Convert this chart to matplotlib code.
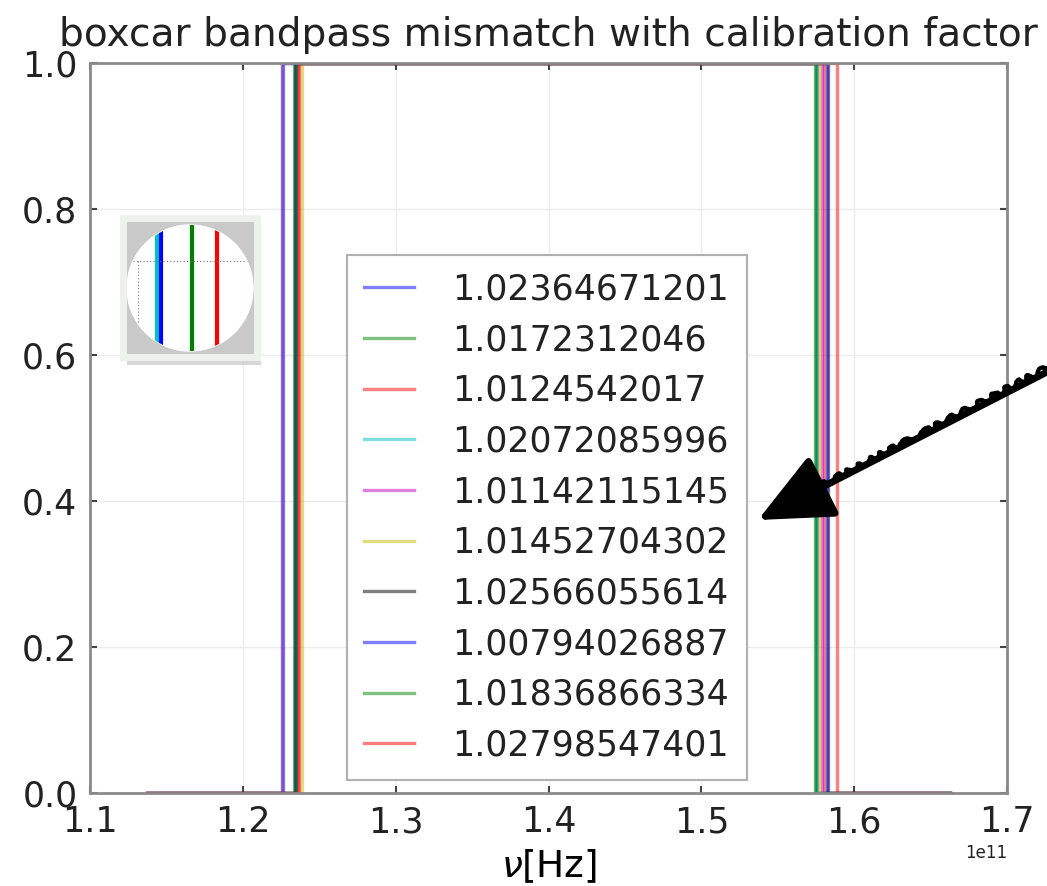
import matplotlib
matplotlib.use("Agg")
import matplotlib.pyplot as plt
from matplotlib.patches import Circle, FancyArrowPatch
from matplotlib.lines import Line2D
import numpy as np

# calibration factors (legend labels) and the band edges, in units of 1e11 Hz
factors = ['1.02364671201', '1.0172312046', '1.0124542017', '1.02072085996', '1.01142115145',
           '1.01452704302', '1.02566055614', '1.00794026887', '1.01836866334', '1.02798547401']
colors = ['b', 'g', 'r', 'c', 'm', 'y', 'k', 'b', 'g', 'r']
nu_start = 1.1373
nu_stop = 1.6628
band_lo = [1.2262, 1.2335, 1.2360, 1.2255, 1.2258, 1.2385, 1.2340, 1.2345, 1.2350, 1.2370]
band_hi = [1.5760, 1.5752, 1.5800, 1.5748, 1.5790, 1.5770, 1.5830, 1.5825, 1.5745, 1.5885]

W, H = 1047, 886
fig = plt.figure(figsize=(W / 100, H / 100), dpi=100)
ax = fig.add_axes([90 / W, 1 - 793 / H, 917 / W, 730 / H])

for lab, c, lo, hi in zip(factors, colors, band_lo, band_hi):
    x = np.array([nu_start, lo, lo, hi, hi, nu_stop]) * 1e11
    y = [0, 0, 1, 1, 0, 0]
    ax.plot(x, y, color=c, alpha=0.5, lw=2.4, label=lab)

ax.set_xlim(1.1e11, 1.7e11)
ax.set_ylim(0, 1.0)
ax.set_xticks(np.arange(1.1, 1.71, 0.1) * 1e11)
ax.set_yticks([0.0, 0.2, 0.4, 0.6, 0.8, 1.0])
ax.grid(True, color='#ececec', lw=1)
for s in ax.spines.values():
    s.set_color('#8a8a8a')
    s.set_linewidth(2)
    s.set_zorder(3)
ax.tick_params(direction='in', length=5, width=1.5, top=True, right=True,
               labelsize=25, labelcolor='#222222', color='#444444', pad=9)
ax.xaxis.get_offset_text().set_fontsize(12)
ax.set_xlabel(r'$\nu$[Hz]', fontsize=27, labelpad=6)
ax.set_title('boxcar bandpass mismatch with calibration factor', fontsize=28.2,
             pad=12, color='#222222')

leg = ax.legend(loc='upper left', bbox_to_anchor=(0.2803, 0.737), fontsize=25,
                fancybox=False, framealpha=1, edgecolor='#b0b0b0', borderaxespad=0,
                handlelength=1.44, handletextpad=1.1, labelspacing=0.48, borderpad=0.5)
leg.get_frame().set_linewidth(1.5)
for t in leg.get_texts():
    t.set_color('#222222')

# little magnifier picture in the upper left
sh = fig.add_axes([127 / W, 1 - 365 / H, 134 / W, 139 / H])
sh.set_facecolor('#bdbdbd')
sh.patch.set_alpha(0.6)
sh.set_xticks([]); sh.set_yticks([])
for s in sh.spines.values():
    s.set_visible(False)
ins = fig.add_axes([123 / W, 1 - 357 / H, 134 / W, 139 / H])
ins.set_xlim(0, 134)
ins.set_ylim(139, 0)
ins.set_facecolor('#c9c9c9')
ins.set_xticks([]); ins.set_yticks([])
for s in ins.spines.values():
    s.set_color('#eef2ef')
    s.set_linewidth(5)
circ = Circle((67, 70), 63, color='white', zorder=1)
ins.add_patch(circ)
for xx, c in [(34, 'c'), (38, 'b'), (69, 'g'), (94, 'r')]:
    ln, = ins.plot([xx, xx], [0, 139], color=c, lw=3, zorder=2)
    ln.set_clip_path(circ)
l1, = ins.plot([0, 134], [43, 43], color='#777777', lw=0.8, ls=(0, (1, 2)), zorder=3)
l1.set_clip_path(circ)
l2, = ins.plot([15, 15], [43, 110], color='#777777', lw=0.8, ls=(0, (1, 2)), zorder=3)
l2.set_clip_path(circ)

# hand drawn arrow pointing at the legend
arrow = FancyArrowPatch(
    (1047 / W, 1 - 372 / H), (758 / W, 1 - 520 / H), transform=fig.transFigure,
    arrowstyle='-|>,head_length=1.2,head_width=0.55', mutation_scale=38,
    shrinkA=0, shrinkB=0, lw=5, color='black')
fig.patches.append(arrow)
rough = Line2D([1047 / W, 800 / W], [1 - 368 / H, 1 - 497 / H], transform=fig.transFigure,
               color='black', lw=3)
rough.set_sketch_params(3, 20, 4)
fig.lines.append(rough)

fig.savefig('out.png', dpi=100)
